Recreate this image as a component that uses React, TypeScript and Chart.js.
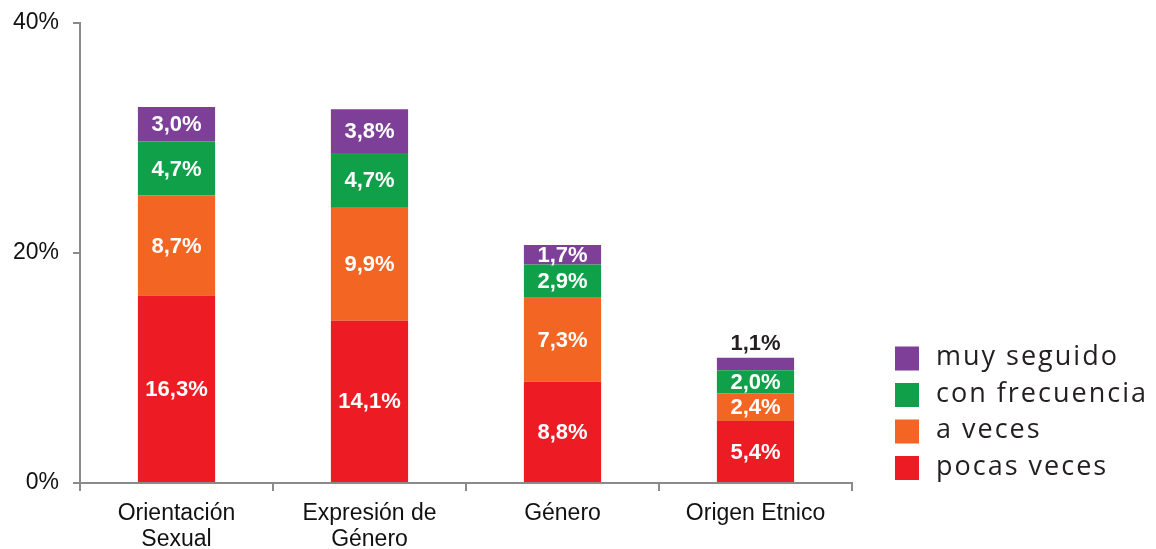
import React, { useEffect, useRef } from "react";
import { Chart, registerables } from "chart.js";

Chart.register(...registerables);

const categories: (string | string[])[] = [
  ["Orientación", "Sexual"],
  ["Expresión de", "Género"],
  "Género",
  "Origen Etnico",
];

const pocasVeces = [16.3, 14.1, 8.8, 5.4];
const aVeces = [8.7, 9.9, 7.3, 2.4];
const conFrecuencia = [4.7, 4.7, 2.9, 2.0];
const muySeguido = [3.0, 3.8, 1.7, 1.1];

const seriesNames = ["pocas veces", "a veces", "con frecuencia", "muy seguido"];
const seriesColors = ["#ED1C24", "#F26522", "#10A04A", "#7D3F98"];

const yTicks = [0, 20, 40];

const FONT = "Arial, 'Liberation Sans', sans-serif";

const fmt = (v: number) => v.toFixed(1).replace(".", ",") + "%";

const labelPlugin = {
  id: "segLabels",
  afterDatasetsDraw(chart: any) {
    const ctx = chart.ctx;
    ctx.save();
    ctx.font = "bold 22px " + FONT;
    ctx.textAlign = "center";
    ctx.textBaseline = "middle";
    chart.data.datasets.forEach((ds: any, di: number) => {
      const meta = chart.getDatasetMeta(di);
      meta.data.forEach((el: any, i: number) => {
        const p = el.getProps(["x", "y", "base"], true);
        const h = p.base - p.y;
        const v = ds.data[i];
        if (h >= 15) {
          ctx.fillStyle = "#ffffff";
          ctx.fillText(fmt(v), p.x, (p.y + p.base) / 2 + 1);
        } else {
          ctx.fillStyle = "#231F20";
          ctx.fillText(fmt(v), p.x, p.y - 14);
        }
      });
    });
    ctx.restore();
  },
};

const legendPlugin = {
  id: "customLegend",
  afterDraw(chart: any) {
    const ctx = chart.ctx;
    const area = chart.chartArea;
    const boxX = area.right + 43;
    const textX = area.right + 84;
    const step = 36.5;
    const n = chart.data.datasets.length;
    ctx.save();
    ctx.font = "27px 'Open Sans', sans-serif";
    try {
      (ctx as any).letterSpacing = "2px";
    } catch (e) {}
    ctx.textAlign = "left";
    ctx.textBaseline = "middle";
    for (let k = 0; k < n; k++) {
      const di = n - 1 - k;
      const ds = chart.data.datasets[di];
      const cy = area.bottom - 15 - (n - 1 - k) * step;
      ctx.fillStyle = ds.backgroundColor;
      ctx.fillRect(boxX, cy - 12, 24, 24);
      ctx.fillStyle = "#231F20";
      ctx.fillText(ds.label, textX, cy - 1);
    }
    ctx.restore();
  },
};

export default function App() {
  const ref = useRef<HTMLCanvasElement | null>(null);
  useEffect(() => {
    document.body.style.margin = "0";
    if (!ref.current) return;
    const values = [pocasVeces, aVeces, conFrecuencia, muySeguido];
    const axisColor = "#8a8a8a";
    const chart = new Chart(ref.current, {
      type: "bar",
      data: {
        labels: categories,
        datasets: values.map((d, i) => ({
          label: seriesNames[i],
          data: d,
          backgroundColor: seriesColors[i],
          borderWidth: 0,
          barPercentage: 0.4,
          categoryPercentage: 1,
        })),
      },
      options: {
        animation: false,
        responsive: true,
        maintainAspectRatio: false,
        layout: { padding: { left: 0, top: 23, right: 304, bottom: 0 } },
        plugins: { legend: { display: false }, tooltip: { enabled: false } },
        scales: {
          x: {
            stacked: true,
            afterFit(scale: any) {
              scale.height = 66;
              scale.paddingLeft = 0;
              scale.paddingRight = 0;
            },
            border: { color: axisColor, width: 2 },
            grid: {
              offset: true,
              drawOnChartArea: false,
              drawTicks: true,
              tickLength: 8,
              color: axisColor,
              lineWidth: 2,
            },
            ticks: {
              color: "#111111",
              padding: 10,
              maxRotation: 0,
              autoSkip: false,
              font: { family: FONT, size: 23, lineHeight: 1.13 },
            },
          },
          y: {
            stacked: true,
            min: 0,
            max: 40,
            afterFit(scale: any) {
              scale.width = 80;
              scale.paddingTop = 0;
              scale.paddingBottom = 0;
            },
            border: { color: axisColor, width: 2 },
            grid: {
              drawOnChartArea: false,
              drawTicks: true,
              tickLength: 7,
              color: axisColor,
              lineWidth: 2,
            },
            afterBuildTicks(scale: any) {
              scale.ticks = yTicks.map((v) => ({ value: v }));
            },
            ticks: {
              color: "#111111",
              padding: 14,
              callback: (v: any) => v + "%",
              font: { family: FONT, size: 23 },
            },
          },
        },
      },
      plugins: [labelPlugin, legendPlugin],
    });
    return () => chart.destroy();
  }, []);
  return (
    <div style={{ width: 1156, height: 549, position: "relative" }}>
      <canvas ref={ref} />
    </div>
  );
}
